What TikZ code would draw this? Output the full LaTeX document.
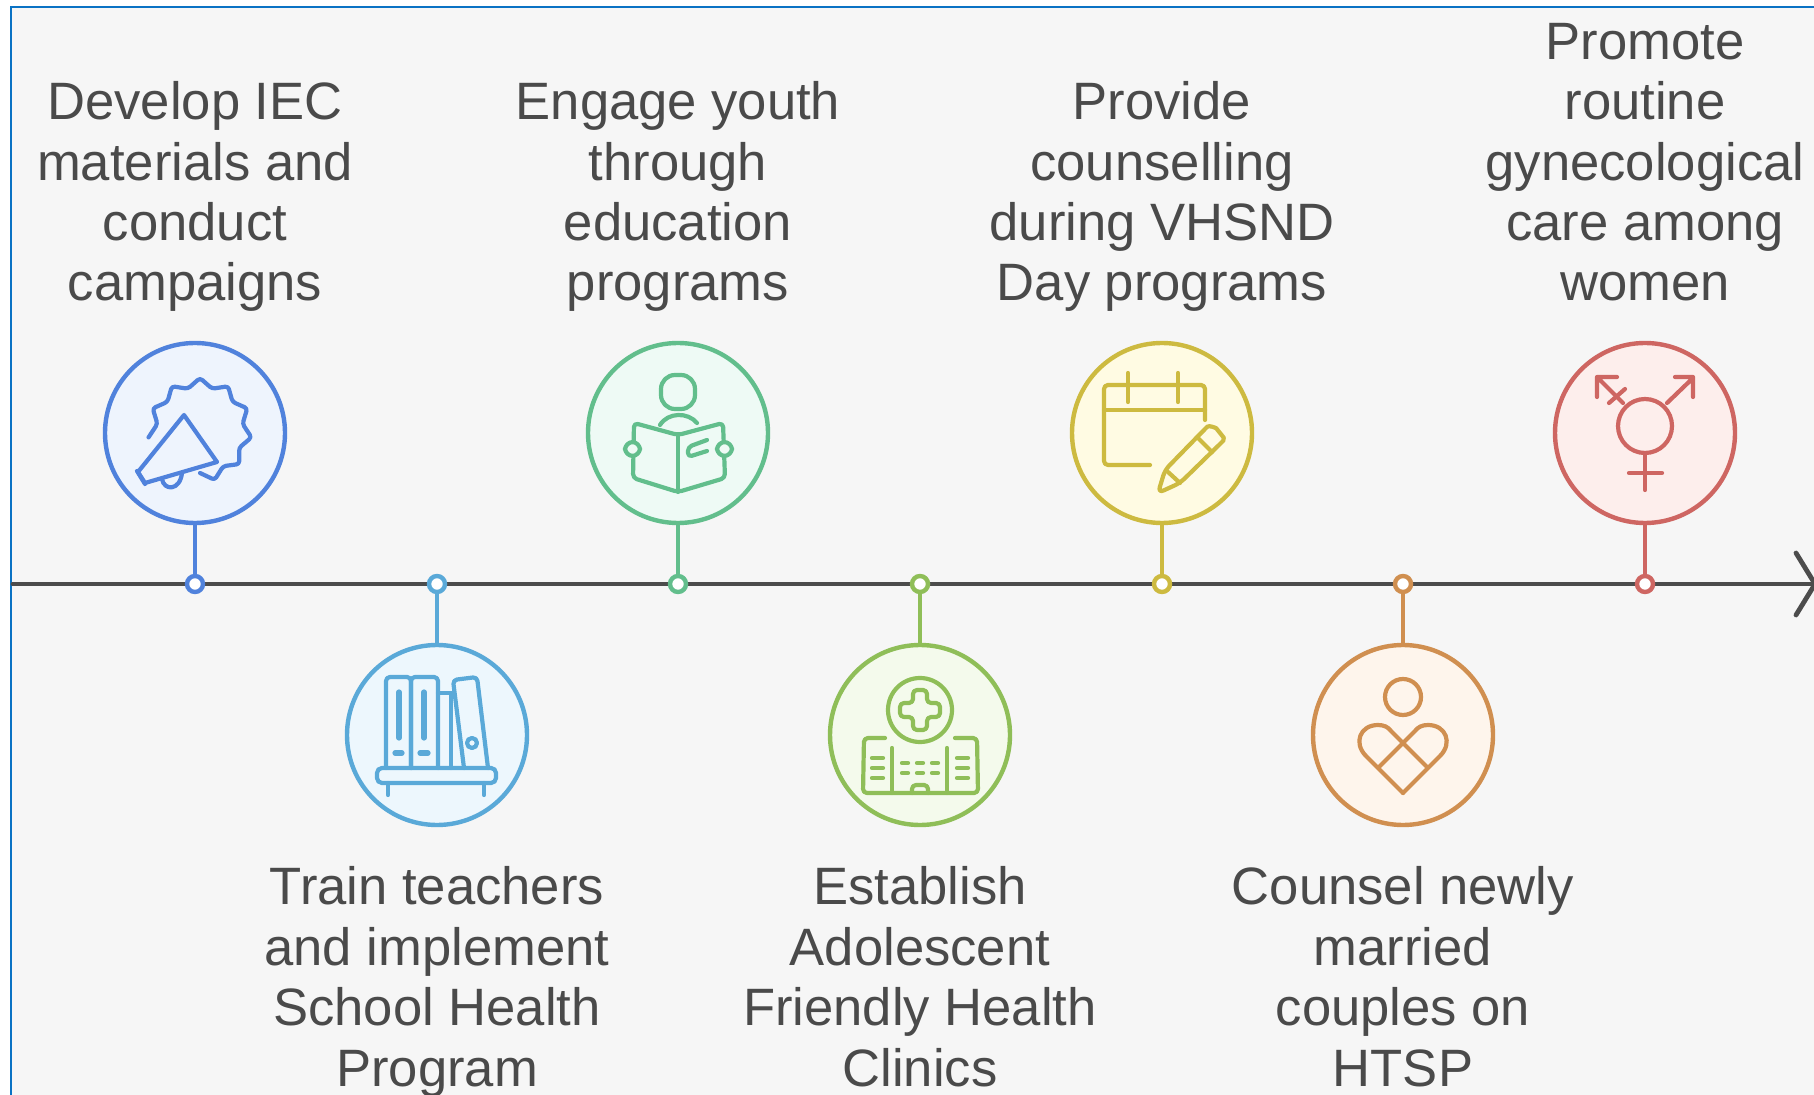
\documentclass[tikz,border=0pt]{standalone}
\usepackage{fontspec}
\setmainfont{Liberation Sans}
\definecolor{pagebg}{HTML}{F6F6F6}
\definecolor{frameblue}{HTML}{0A72C4}
\definecolor{inktext}{HTML}{4A4A4A}
\definecolor{axisgrey}{HTML}{4C4C4C}
\definecolor{cA}{HTML}{5082DC}\definecolor{fA}{HTML}{EEF4FD}
\definecolor{cB}{HTML}{5AA9D8}\definecolor{fB}{HTML}{EDF7FD}
\definecolor{cC}{HTML}{62BE8C}\definecolor{fC}{HTML}{EEFAF5}
\definecolor{cD}{HTML}{8FBE58}\definecolor{fD}{HTML}{F4FAEC}
\definecolor{cE}{HTML}{CDBA40}\definecolor{fE}{HTML}{FFFBE3}
\definecolor{cF}{HTML}{D08F50}\definecolor{fF}{HTML}{FEF5EC}
\definecolor{cG}{HTML}{CE6662}\definecolor{fG}{HTML}{FDEEEC}
\tikzset{
  disc/.style={circle,draw=#1,line width=2.2pt,inner sep=0pt,outer sep=0pt,minimum size=90pt},
  knob/.style={circle,draw=#1,fill=white,line width=2.2pt,inner sep=0pt,outer sep=0pt,minimum size=8pt},
  stem/.style={draw=#1,line width=2.2pt},
  glyph/.style={draw=#1,line width=2.1pt,line cap=round,line join=round},
  caption/.style={anchor=base,align=center,inner sep=0pt,outer sep=0pt,text=inktext,
    font=\fontsize{26.3pt}{30.2pt}\selectfont},
  axisline/.style={draw=axisgrey,line width=2.4pt,line cap=round,line join=round}
}
\begin{document}
\begin{tikzpicture}[x=0.5pt,y=-0.5pt]
\useasboundingbox (0,0) rectangle (1814,1095);
\fill[white] (0,0) rectangle (1814,1095);
\fill[pagebg] (11,7) rectangle (1814,1095);
\draw[frameblue,line width=1.3pt] (11,1095) -- (11,7) -- (1814,7);

\coordinate (axS) at (13,584);
\coordinate (axE) at (1815,584);
\coordinate (chU) at (1796,553);
\coordinate (chD) at (1796,615);
\draw[axisline] (axS) -- (axE);
\draw[axisline] (chU) -- (axE) -- (chD);

% discs
\node[disc=cA,fill=fA] (d1) at (195,433) {};
\node[disc=cB,fill=fB] (d2) at (437,735) {};
\node[disc=cC,fill=fC] (d3) at (678,433) {};
\node[disc=cD,fill=fD] (d4) at (920,735) {};
\node[disc=cE,fill=fE] (d5) at (1162,433) {};
\node[disc=cF,fill=fF] (d6) at (1403,735) {};
\node[disc=cG,fill=fG] (d7) at (1645,433) {};
% knobs
\node[knob=cA] (k1) at (195,584) {};
\node[knob=cB] (k2) at (437,584) {};
\node[knob=cC] (k3) at (678,584) {};
\node[knob=cD] (k4) at (920,584) {};
\node[knob=cE] (k5) at (1162,584) {};
\node[knob=cF] (k6) at (1403,584) {};
\node[knob=cG] (k7) at (1645,584) {};
% stems
\draw[stem=cA] (d1) -- (k1);
\draw[stem=cB] (k2) -- (d2);
\draw[stem=cC] (d3) -- (k3);
\draw[stem=cD] (k4) -- (d4);
\draw[stem=cE] (d5) -- (k5);
\draw[stem=cF] (k6) -- (d6);
\draw[stem=cG] (d7) -- (k7);

% captions (the node's base is its last line)
\node[caption] (t1) at (195,301) {Develop IEC\\materials and\\conduct\\campaigns};
\node[caption] (t2) at (437,1086) {Train teachers\\and implement\\School Health\\Program};
\node[caption] (t3) at (678,301) {Engage youth\\through\\education\\programs};
\node[caption] (t4) at (920,1086) {Establish\\Adolescent\\Friendly Health\\Clinics};
\node[caption] (t5) at (1162,301) {Provide\\counselling\\during VHSND\\Day programs};
\node[caption] (t6) at (1403,1086) {Counsel newly\\married\\couples on\\HTSP};
\node[caption] (t7) at (1645,301) {Promote\\routine\\gynecological\\care among\\women};

% megaphone
\begin{scope}[shift={(195,432)}]
\draw[glyph=cA,rounded corners=1.5pt] plot[domain=171.82:450,samples=18] ({5+(47.5+4.5*cos(11*(\x-270)))*cos(\x)},{-2+(47.5+4.5*cos(11*(\x-270)))*sin(\x)});
\draw[glyph=cA,fill=fA] (-57,40) -- (-11,-17) -- (22,30) -- (-50,51) -- cycle;
\draw[glyph=cA] (-58,39) -- (-50,52);
\draw[glyph=cA] (-33,47) .. controls (-31,59) and (-15,59) .. (-13,41);
\end{scope}

% books
\begin{scope}[shift={(437,735)}]
\draw[glyph=cB,rounded corners=2pt] (-51,33) -- (-51,-58) -- (-26,-58) -- (-26,33);
\draw[glyph=cB,rounded corners=2pt] (-26,33) -- (-26,-58) -- (1,-58) -- (1,33);
\draw[glyph=cB] (1,-42) -- (15,-42);
\draw[glyph=cB] (14,33) -- (14,-42);
\draw[glyph=cB,rounded corners=2pt] (27,33) -- (16,-55) -- (40,-58) -- (51,33);
\draw[glyph=cB] (35,8) circle (5);
\draw[glyph=cB,line width=2.6pt] (-38,-43) -- (-38,3) (-42,18) -- (-35,18) (-13,-43) -- (-13,3) (-17,18) -- (-9,18);
\draw[glyph=cB,rounded corners=2.5pt] (-60,33) rectangle (59,48);
\draw[glyph=cB] (-49,48) -- (-49,60) (47,48) -- (47,60);
\end{scope}

% reader
\begin{scope}[shift={(678,432)}]
\draw[glyph=cC,rounded corners=7pt] (-17,-57) rectangle (17,-23);
\draw[glyph=cC] (-18,-7) .. controls (-10,-20) and (10,-20) .. (19,-9);
\draw[glyph=cC,rounded corners=2pt] (0,3) -- (-44,-9) -- (-45,46) -- (0,60) -- (47,46) -- (45,-9) -- cycle;
\draw[glyph=cC] (0,3) -- (0,60);
\draw[glyph=cC,fill=fC,rounded corners=4pt] (-53,10) rectangle (-38,24);
\draw[glyph=cC,fill=fC,rounded corners=4pt] (39,10) rectangle (54,24);
\draw[glyph=cC,rounded corners=2pt] (29,8) -- (10,15) -- (10,25) -- (29,19);
\end{scope}

% hospital
\begin{scope}[shift={(920,735)}]
\draw[glyph=cD] (0,-25) circle (32);
\draw[glyph=cD,rounded corners=2pt] (-7,-45) -- (7,-45) -- (7,-32) -- (20,-32) -- (20,-18) -- (7,-18) -- (7,-5) -- (-7,-5) -- (-7,-18) -- (-20,-18) -- (-20,-32) -- (-7,-32) -- cycle;
\draw[glyph=cD,rounded corners=2pt] (-35,3) -- (-56,3) -- (-57,58) -- (58,58) -- (57,3) -- (35,3);
\draw[glyph=cD] (-28,13) -- (-28,58) (27,13) -- (27,58);
\draw[glyph=cD] (-48,23) -- (-37,23) (-48,33) -- (-37,33) (-48,43) -- (-37,43);
\draw[glyph=cD] (37,23) -- (48,23) (37,33) -- (48,33) (37,43) -- (48,43);
\draw[glyph=cD] (-18,28) -- (-12,28) (-3,28) -- (3,28) (12,28) -- (18,28);
\draw[glyph=cD] (-18,38) -- (-12,38) (-3,38) -- (3,38) (12,38) -- (18,38);
\draw[glyph=cD,rounded corners=2pt] (-8,58) -- (-8,50) -- (8,50) -- (8,58);
\end{scope}

% calendar
\begin{scope}[shift={(1162,432)}]
\draw[glyph=cE,rounded corners=2pt] (-12,33) -- (-58,33) -- (-58,-47) -- (43,-47) -- (43,-12);
\draw[glyph=cE] (-58,-22) -- (43,-22);
\draw[glyph=cE] (-34,-59) -- (-34,-30) (16,-59) -- (16,-30);
\draw[glyph=cE,rounded corners=3pt] (-4,61) -- (3,38) -- (41,-1) .. controls (47,-7) and (54,-4) .. (58,1) .. controls (62,6) and (61,9) .. (57,13) -- (18,51) -- cycle;
\draw[glyph=cE] (6,40) -- (18,51) (36,6) -- (50,20);
\end{scope}

% person with heart
\begin{scope}[shift={(1403,735)}]
\draw[glyph=cF] (0,-38) circle (18);
\draw[glyph=cF] (0,58) -- (-37,21) .. controls (-50,8) and (-43,-10) .. (-25,-10) .. controls (-19,-10) and (-15,-8) .. (-12,-4) -- (24,32);
\draw[glyph=cF] (0,58) -- (37,21) .. controls (50,8) and (43,-10) .. (25,-10) .. controls (19,-10) and (15,-8) .. (12,-4) -- (-24,32);
\end{scope}

% gender symbol
\begin{scope}[shift={(1645,432)}]
\draw[glyph=cG] (0,-6) circle (27);
\draw[glyph=cG] (0,21) -- (0,58) (-16,41) -- (17,41);
\draw[glyph=cG] (22,-29) -- (48,-54) (30,-55) -- (48,-55) -- (48,-35);
\draw[glyph=cG] (-22,-29) -- (-48,-55) (-28,-55) -- (-48,-55) -- (-48,-35);
\draw[glyph=cG] (-36,-29) -- (-20,-43);
\end{scope}
\end{tikzpicture}
\end{document}
